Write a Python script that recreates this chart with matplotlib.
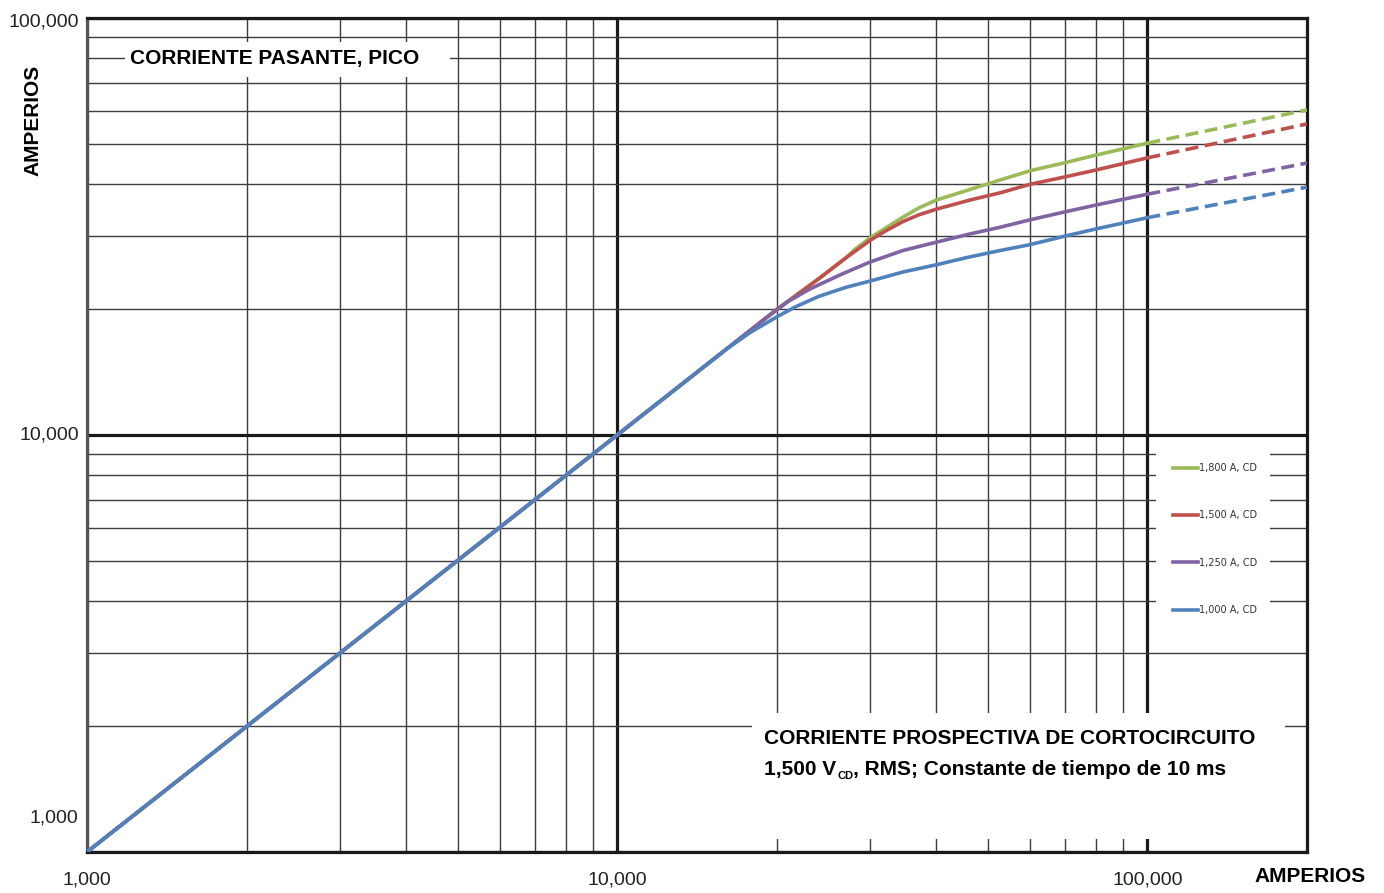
import matplotlib
matplotlib.use("Agg")
import matplotlib.pyplot as plt
import matplotlib.transforms as mtransforms
from matplotlib.patches import Rectangle
from matplotlib.ticker import LogLocator, NullFormatter

plt.rcParams['font.family'] = ['Liberation Sans', 'DejaVu Sans']

# data (prospective A -> peak let-through A)
x_1800 = [1000, 10000, 20000, 24000, 26900, 28100, 30000, 32000, 34600, 37000, 40000, 46300, 52800, 60000, 70000, 80000, 100000]
y_1800 = [1000, 10000, 20000, 23700, 26500, 27900, 29700, 31300, 33300, 35000, 36600, 38800, 40900, 43000, 45000, 46900, 50100]

x_1500 = [1000, 10000, 20000, 24000, 26900, 30000, 32000, 34600, 37000, 40000, 46300, 52800, 60000, 70000, 80000, 100000]
y_1500 = [1000, 10000, 20000, 23700, 26500, 29300, 30800, 32500, 33700, 34800, 36600, 38100, 39900, 41600, 43200, 46200]

x_1250 = [1000, 10000, 19000, 20000, 21000, 23100, 26500, 30000, 34600, 40000, 46000, 52800, 60000, 70000, 80000, 100000]
y_1250 = [1000, 10000, 19000, 19950, 20900, 22400, 24300, 26000, 27700, 29000, 30300, 31500, 32800, 34300, 35600, 37800]

x_1000 = [1000, 10000, 16000, 17800, 20000, 21700, 24000, 27000, 30000, 34600, 40000, 46000, 52800, 60000, 70000, 80000, 100000]
y_1000 = [1000, 10000, 16000, 17600, 19200, 20300, 21500, 22600, 23400, 24600, 25600, 26700, 27700, 28600, 30000, 31200, 33200]

# extrapolated (dashed) part
x_ext = [100000, 200000]
y_1800_ext = [50100, 60200]
y_1500_ext = [46200, 55700]
y_1250_ext = [37800, 44900]
y_1000_ext = [33200, 39300]

labels = ['1,800 A, CD', '1,500 A, CD', '1,250 A, CD', '1,000 A, CD']
colors = ['#9BBB59', '#C0504D', '#8064A2', '#4F81BD']

x_ticks = [1000, 10000, 100000]
x_ticklabels = ['1,000', '10,000', '100,000']
y_ticks = [1000, 10000, 100000]
y_ticklabels = ['1,000', '10,000', '100,000']

fig = plt.figure(figsize=(13.84, 8.93), dpi=100)
ax = fig.add_axes([87 / 1384, 1 - 852 / 893, 1220 / 1384, 834 / 893])
ax.set_xscale('log')
ax.set_yscale('log')
ax.set_xlim(1000, 200000)
ax.set_ylim(1000, 100000)

series = [(x_1800, y_1800, y_1800_ext), (x_1500, y_1500, y_1500_ext),
          (x_1250, y_1250, y_1250_ext), (x_1000, y_1000, y_1000_ext)]
for (xs, ys, ye), lab, col in zip(series, labels, colors):
    ax.plot(xs, ys, color=col, lw=2.6, label=lab, zorder=4, solid_joinstyle='round')
    ax.plot(x_ext, ye, color=col, lw=2.6, dashes=(3.6, 1.8), zorder=4)

# grid
ax.xaxis.set_minor_locator(LogLocator(base=10, subs=range(2, 10)))
ax.yaxis.set_minor_locator(LogLocator(base=10, subs=range(2, 10)))
ax.xaxis.set_minor_formatter(NullFormatter())
ax.yaxis.set_minor_formatter(NullFormatter())
ax.grid(which='major', color='#1a1a1a', lw=2.3)
ax.grid(which='minor', color='#3c3c3c', lw=1.0)
ax.tick_params(which='both', length=0)
for s in ax.spines.values():
    s.set_linewidth(2.3)
    s.set_color('#1a1a1a')
ax.spines['left'].set_color('#555555')

ax.set_xticks(x_ticks)
ax.set_xticklabels(x_ticklabels, fontsize=14, color='#222222')
ax.tick_params(axis='x', pad=14)
ax.set_yticks(y_ticks)
ax.set_yticklabels([])
for v, t in zip(y_ticks, y_ticklabels):
    dy = 34 if v == 1000 else (-4 if v == 100000 else 0)
    ax.annotate(t, xy=(0, v), xycoords=('axes fraction', 'data'),
                xytext=(-6, dy * 0.72), textcoords='offset points',
                ha='right', va='center', fontsize=14, color='#222222',
                annotation_clip=False)

# white boxes behind the annotations
ax.add_patch(Rectangle((0.0311, 0.929), 0.2664, 0.042, transform=ax.transAxes,
                       facecolor='white', edgecolor='none', zorder=2.5))
ax.text(0.0352, 0.951, 'CORRIENTE PASANTE, PICO', transform=ax.transAxes,
        ha='left', va='center', fontsize=15, fontweight='bold', zorder=3)

ax.add_patch(Rectangle((0.545, 0.0156), 0.437, 0.151, transform=ax.transAxes,
                       facecolor='white', edgecolor='none', zorder=2.5))
x0 = (764 - 87) / 1220
ax.text(x0, (852 - 739) / 834, 'CORRIENTE PROSPECTIVA DE CORTOCIRCUITO',
        transform=ax.transAxes, ha='left', va='center', fontsize=15, fontweight='bold', zorder=3)

# second line with subscript, built from pieces
y2 = (852 - 775) / 834
renderer = fig.canvas.get_renderer()
t_a = ax.text(x0, y2, '1,500 V', transform=ax.transAxes, ha='left', va='baseline',
              fontsize=15, fontweight='bold', zorder=3)
w_a = t_a.get_window_extent(renderer).width
t_s = ax.text(x0, y2, 'CD', transform=mtransforms.offset_copy(ax.transAxes, fig=fig, x=w_a + 1, y=-4, units='dots'),
              ha='left', va='baseline', fontsize=8, fontweight='bold', zorder=3)
w_s = t_s.get_window_extent(renderer).width
ax.text(x0, y2, ', RMS; Constante de tiempo de 10 ms',
        transform=mtransforms.offset_copy(ax.transAxes, fig=fig, x=w_a + w_s + 1, y=0, units='dots'),
        ha='left', va='baseline', fontsize=15, fontweight='bold', zorder=3)

# legend box
ax.add_patch(Rectangle((0.876, 0.260), 0.094, 0.228, transform=ax.transAxes,
                       facecolor='white', edgecolor='none', zorder=2.5))
leg = ax.legend(loc='upper left', bbox_to_anchor=((1173 - 87) / 1220, (852 - 463) / 834),
                frameon=False, borderpad=0, borderaxespad=0, handlelength=2.6,
                handletextpad=0.1, labelspacing=3.85, prop={'family': 'DejaVu Sans', 'size': 7})
for t in leg.get_texts():
    t.set_color('#333333')

# axis titles
fig.text(33 / 1384, 1 - 120 / 893, 'AMPERIOS', rotation=90, ha='center', va='center',
         fontsize=15, fontweight='bold')
fig.text(1310 / 1384, 1 - 877 / 893, 'AMPERIOS', ha='center', va='center',
         fontsize=15, fontweight='bold')

fig.savefig('out.png', dpi=100)
